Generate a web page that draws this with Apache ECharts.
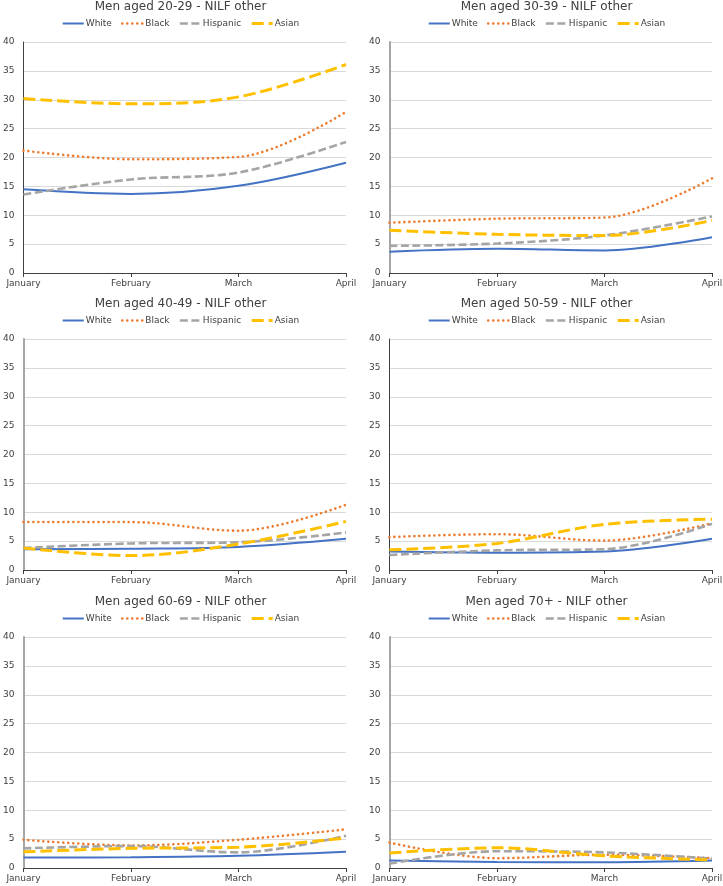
<!DOCTYPE html>
<html>
<head>
<meta charset="utf-8">
<script src="https://cdn.jsdelivr.net/npm/echarts@6/dist/echarts.min.js"></script>
<style>
html,body{margin:0;padding:0;background:#fff;overflow:hidden;width:723px;height:886px;}
.p{position:absolute;width:361px;height:297px;}
</style>
</head>
<body>
<div id="c0" class="p" style="left:0;top:0"></div>
<div id="c1" class="p" style="left:366px;top:0"></div>
<div id="c2" class="p" style="left:0;top:297px"></div>
<div id="c3" class="p" style="left:366px;top:297px"></div>
<div id="c4" class="p" style="left:0;top:595px"></div>
<div id="c5" class="p" style="left:366px;top:595px"></div>
<script>
const months = ["January", "February", "March", "April"];
const seriesNames = ["White", "Black", "Hispanic", "Asian"];
const yTicks = [0, 5, 10, 15, 20, 25, 30, 35, 40];
const panelTitles = [
  "Men aged 20-29 - NILF other",
  "Men aged 30-39 - NILF other",
  "Men aged 40-49 - NILF other",
  "Men aged 50-59 - NILF other",
  "Men aged 60-69 - NILF other",
  "Men aged 70+ - NILF other"
];

// values per panel: [White, Black, Hispanic, Asian]
const age20_29 = [
  [14.5, 13.7, 15.1, 19.1],
  [21.2, 19.7, 20.1, 27.9],
  [13.6, 16.2, 17.4, 22.7],
  [30.2, 29.3, 30.5, 36.1]
];
const age30_39 = [
  [3.7, 4.2, 3.9, 6.2],
  [8.7, 9.4, 9.6, 16.4],
  [4.7, 5.1, 6.5, 9.8],
  [7.4, 6.7, 6.5, 9.1]
];
const age40_49 = [
  [3.6, 3.7, 4.0, 5.4],
  [8.3, 8.3, 6.8, 11.3],
  [3.8, 4.6, 4.8, 6.5],
  [3.8, 2.5, 4.5, 8.4]
];
const age50_59 = [
  [3.2, 3.0, 3.2, 5.4],
  [5.7, 6.2, 5.1, 8.1],
  [2.6, 3.4, 3.6, 8.0],
  [3.5, 4.6, 7.9, 8.8]
];
const age60_69 = [
  [1.8, 1.85, 2.1, 2.8],
  [4.9, 3.9, 4.9, 6.7],
  [3.4, 3.8, 2.7, 5.6],
  [2.8, 3.4, 3.6, 5.2]
];
const age70plus = [
  [1.3, 1.05, 1.0, 1.3],
  [4.4, 1.7, 2.3, 1.7],
  [0.75, 2.9, 2.7, 1.6],
  [2.6, 3.5, 2.1, 1.4]
];
const panels = [age20_29, age30_39, age40_49, age50_59, age60_69, age70plus];

const FONT = "DejaVu Sans, Verdana, sans-serif";
const TXT = "#404040";
const styles = [
  {color: "#4472C4", width: 2, type: "solid", cap: "butt"},
  {color: "#ED7D31", width: 2.6, type: [0.1, 4.9], cap: "round"},
  {color: "#A5A5A5", width: 2.6, type: [8, 3.5], cap: "butt"},
  {color: "#FFC000", width: 3, type: [12, 5], cap: "butt"}
];
const yAxisLineColors = ["#404040", "#A6A6A6", "#A6A6A6", "#404040", "#A6A6A6", "#A6A6A6"];
const yAxisLineWidths = [1, 2, 2, 1, 2, 2];

panels.forEach((data, i) => {
  const chart = echarts.init(document.getElementById("c" + i), null, {renderer: "canvas"});
  chart.setOption({
    animation: false,
    backgroundColor: "#fff",
    textStyle: {fontFamily: FONT},
    title: {
      text: panelTitles[i],
      left: "center",
      top: 1,
      padding: 0,
      textStyle: {fontFamily: FONT, fontSize: 12, fontWeight: "normal", color: TXT}
    },
    legend: {
      data: seriesNames,
      left: "center",
      top: 19,
      padding: 0,
      itemGap: 9,
      itemWidth: 21,
      itemHeight: 8,
      itemStyle: {opacity: 0},
      lineStyle: {width: "inherit"},
      textStyle: {fontFamily: FONT, fontSize: 9, color: TXT, padding: [0, 0, 0, -3]}
    },
    grid: {left: 21, right: 15, top: 42, bottom: 24},
    xAxis: {
      type: "category",
      data: months,
      boundaryGap: false,
      axisLine: {lineStyle: {color: "#404040", width: 1}},
      axisTick: {show: true, length: 4, lineStyle: {color: "#404040"}},
      axisLabel: {fontFamily: FONT, fontSize: 9, color: TXT, margin: 6, showMinLabel: true, showMaxLabel: true, interval: 0},
      splitLine: {show: false}
    },
    yAxis: {
      type: "value",
      min: yTicks[0],
      max: yTicks[yTicks.length - 1],
      interval: yTicks[1] - yTicks[0],
      axisLine: {show: true, lineStyle: {color: yAxisLineColors[i], width: yAxisLineWidths[i]}},
      axisTick: {show: false},
      axisLabel: {fontFamily: FONT, fontSize: 9, color: TXT, margin: 9},
      splitLine: {lineStyle: {color: "#D9D9D9", width: 1}}
    },
    series: seriesNames.map((name, k) => ({
      name: name,
      type: "line",
      data: data[k],
      smooth: 0.35,
      symbol: "none",
      showSymbol: false,
      color: styles[k].color,
      lineStyle: {color: styles[k].color, width: styles[k].width, type: styles[k].type, cap: styles[k].cap},
      z: 2 + k
    }))
  });
});
</script>
</body>
</html>
